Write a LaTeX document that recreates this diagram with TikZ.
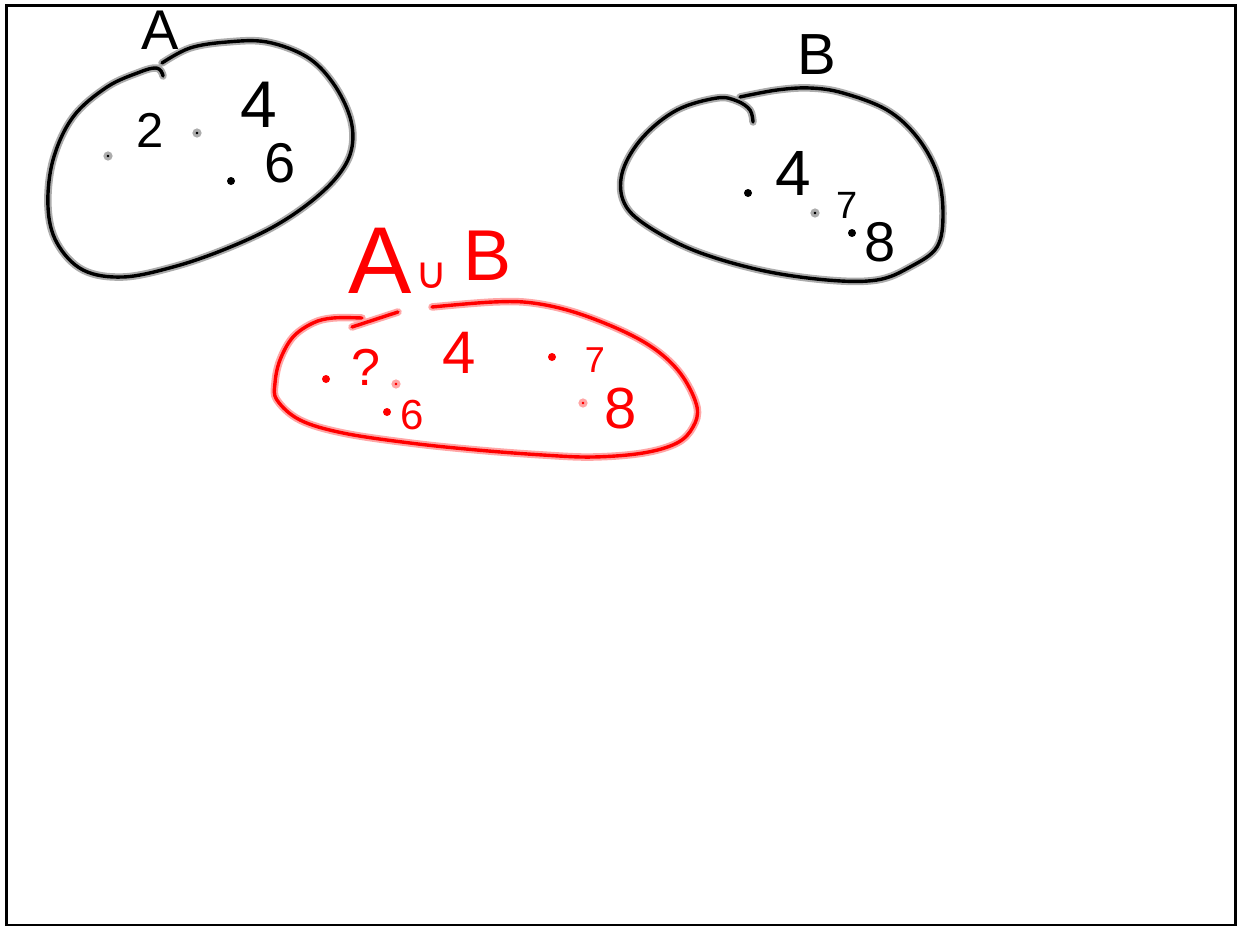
\documentclass[tikz,border=0pt]{standalone}
\usepackage{fontspec}
\setmainfont{Liberation Sans}
\newfontfamily\djv{DejaVu Sans}
\begin{document}
\begin{tikzpicture}[x=1pt,y=-1pt,
  blk/.style={draw=black, line width=3.4pt, line cap=round, line join=round,
    preaction={draw=gray!65, line width=7.5pt, line cap=round, line join=round}},
  rd/.style={draw=red, line width=3.4pt, line cap=round, line join=round,
    preaction={draw=red!35, line width=7.5pt, line cap=round, line join=round}},
  lbl/.style={inner sep=0pt, anchor=center, font=\fontsize{#1pt}{#1pt}\selectfont},
  kl/.style={lbl=#1, text=black},
  rl/.style={lbl=#1, text=red},
  dotk/.style={circle, fill=black, inner sep=0pt, minimum size=8pt},
  dotg/.style={circle, fill=black, draw=gray!65, line width=3pt, inner sep=0pt, minimum size=6pt},
  dotr/.style={circle, fill=red, inner sep=0pt, minimum size=8pt},
  dotp/.style={circle, fill=red, draw=red!35, line width=3pt, inner sep=0pt, minimum size=6pt},
  frame/.style={draw=black, line width=3pt}
]
\useasboundingbox (0,0) rectangle (1237,926);
\node[frame, inner sep=0pt, minimum width=1229pt, minimum height=920pt, anchor=north west] (border) at (5,4) {};

% ---- set A ----
\draw[blk] plot[smooth, tension=0.6] coordinates {(162,63) (190,48) (227,42) (267,42) (307,57) (333,83) (350,117) (352,147) (340,173) (313,200) (273,227) (223,250) (173,267) (123,277) (83,270) (57,243) (48,207) (53,160) (73,117) (107,87) (140,72) (155,68) (161,71) (163,76)};
\node[kl=56] (labA) at (160,30) {A};
\node[dotg] (a1) at (108,156) {};
\node[kl=49] (a2) at (150,130) {2};
\node[dotg] (a3) at (197,133) {};
\node[kl=66] (a4) at (259,105) {4};
\node[dotk] (a5) at (231,181) {};
\node[kl=56] (a6) at (280,163) {6};

% ---- set B ----
\draw[blk] plot[smooth, tension=0.6] coordinates {(740,97) (777,90) (810,88) (843,93) (887,110) (917,137) (937,173) (943,213) (937,247) (910,267) (877,280) (827,280) (760,270) (693,250) (643,223) (623,200) (623,170) (643,137) (677,110) (717,98) (737,101) (750,110) (753,122)};
\node[kl=58] (labB) at (817,55) {B};
\node[dotk] (b1) at (748,193) {};
\node[kl=64] (b4) at (793,173) {4};
\node[dotg] (b2) at (815,213) {};
\node[kl=38] (b7) at (847,205) {7};
\node[dotk] (b3) at (852,233) {};
\node[kl=56] (b8) at (880,242) {8};

% ---- A union B ----
\draw[rd] plot[smooth, tension=0.6] coordinates {(432,307) (493,302) (533,303) (577,313) (627,333) (660,353) (683,377) (697,407) (693,427) (677,443) (643,453) (593,457) (543,455) (477,450) (410,443) (343,433) (300,420) (277,400) (275,383) (280,360) (293,337) (313,323) (333,318) (362,318)};
\coordinate (n1) at (352,327);
\coordinate (n2) at (398,312);
\draw[rd] (n1) -- (n2);
\node[rl=95] (uA) at (380,261) {A};
\node[rl=44] (uC) at (432,276) {\djv ∪};
\node[rl=72] (uB) at (488,256) {B};
\node[dotr] (u1) at (326,379) {};
\node[rl=52] (uq) at (366,367) {?};
\node[dotp] (u2) at (396,384) {};
\node[dotr] (u3) at (387,412) {};
\node[rl=42] (u6) at (412,415) {6};
\node[rl=60] (u4) at (459,353) {4};
\node[dotr] (u5) at (552,357) {};
\node[rl=36] (u7) at (595,360) {7};
\node[dotp] (u8) at (583,403) {};
\node[rl=58] (u9) at (621,409) {8};
\end{tikzpicture}
\end{document}
